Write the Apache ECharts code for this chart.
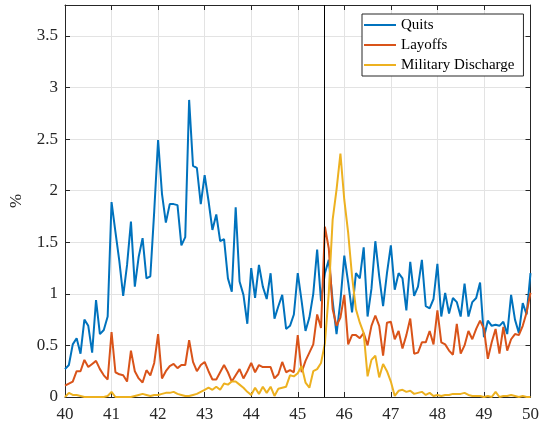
<!DOCTYPE html>
<html>
<head>
<meta charset="utf-8">
<script src="https://cdn.jsdelivr.net/npm/echarts@6/dist/echarts.min.js"></script>
<style>
html,body{margin:0;padding:0;background:#fff;}
#c{width:542px;height:426px;}
</style>
</head>
<body>
<div id="c"></div>
<script>
// Monthly series, Jan 1940 .. Jan 1950 (121 points)
const startYear = 40;
const monthsPerYear = 12;
const quits = [
  0.27,0.31,0.51,0.57,0.42,0.75,0.69,0.43,0.94,0.61,0.65,0.78,
  1.89,1.60,1.32,0.98,1.28,1.70,1.07,1.36,1.54,1.15,1.17,1.80,
  2.49,1.97,1.69,1.87,1.87,1.86,1.47,1.55,2.88,2.24,2.22,1.87,
  2.15,1.90,1.62,1.77,1.51,1.53,1.15,1.02,1.84,1.12,0.99,0.71,
  1.25,0.96,1.28,1.07,0.95,1.20,0.76,0.88,0.99,0.66,0.69,0.80,
  1.20,0.93,0.64,0.77,1.00,1.43,0.93,1.20,1.33,0.93,0.61,0.93,
  1.37,1.11,0.82,1.20,1.15,1.45,0.78,1.05,1.51,1.17,0.88,1.20,
  1.47,1.04,1.20,1.15,0.84,1.31,0.98,1.07,1.33,0.88,0.86,0.95,
  1.29,0.78,1.01,0.81,0.96,0.92,0.78,1.10,0.78,0.92,0.96,1.11,
  0.58,0.74,0.69,0.70,0.69,0.73,0.61,0.99,0.75,0.62,0.91,0.80,
  1.20
];
const layoffs = [
  0.11,0.13,0.15,0.25,0.25,0.36,0.29,0.32,0.35,0.27,0.21,0.17,
  0.63,0.24,0.22,0.21,0.15,0.45,0.25,0.18,0.14,0.26,0.21,0.33,
  0.61,0.18,0.25,0.30,0.32,0.28,0.31,0.31,0.55,0.34,0.25,0.31,
  0.34,0.25,0.17,0.17,0.24,0.31,0.24,0.15,0.21,0.27,0.18,0.25,
  0.33,0.24,0.31,0.29,0.29,0.29,0.18,0.22,0.34,0.24,0.26,0.24,
  0.60,0.24,0.35,0.43,0.51,0.80,0.67,1.65,1.44,0.85,0.69,0.77,
  0.99,0.51,0.60,0.60,0.57,0.62,0.50,0.69,0.79,0.69,0.40,0.72,
  0.73,0.56,0.64,0.47,0.60,0.76,0.42,0.43,0.53,0.53,0.64,0.51,
  0.84,0.53,0.51,0.45,0.41,0.71,0.42,0.50,0.64,0.56,0.66,0.74,
  0.66,0.37,0.53,0.66,0.42,0.68,0.45,0.56,0.61,0.60,0.69,0.82,
  1.01
];
const military = [
  0.00,0.04,0.02,0.02,0.01,0.00,0.00,0.00,0.00,0.00,0.00,0.01,
  0.05,0.00,0.00,0.00,0.00,0.00,0.01,0.02,0.03,0.02,0.01,0.02,
  0.02,0.03,0.04,0.04,0.05,0.03,0.02,0.01,0.01,0.02,0.03,0.05,
  0.07,0.09,0.07,0.10,0.07,0.13,0.12,0.15,0.15,0.12,0.09,0.05,
  0.02,0.09,0.03,0.10,0.04,0.10,0.01,0.08,0.09,0.10,0.21,0.20,
  0.23,0.30,0.14,0.09,0.25,0.27,0.33,0.52,1.01,1.72,2.01,2.36,
  1.91,1.59,1.17,0.85,0.72,0.62,0.20,0.36,0.40,0.19,0.32,0.25,
  0.15,0.01,0.06,0.07,0.05,0.06,0.03,0.04,0.05,0.02,0.04,0.01,
  0.02,0.01,0.02,0.02,0.03,0.03,0.03,0.04,0.02,0.01,0.01,0.01,
  0.00,0.01,0.00,0.05,0.00,0.01,0.01,0.02,0.01,0.00,0.01,0.00,
  0.00
];
const seriesNames = ['Quits','Layoffs','Military Discharge'];
const xTicks = [40,41,42,43,44,45,46,47,48,49,50];
const yTicks = [0,0.5,1,1.5,2,2.5,3,3.5];
const eventX = 45.58;

const pair = arr => arr.map((v,i) => [startYear + i/monthsPerYear, v]);
const axisCol = '#262626';
const font = 'Liberation Serif';

const chart = echarts.init(document.getElementById('c'), null, {renderer:'canvas'});
const baseX = {
  type:'value', min:xTicks[0], max:xTicks[xTicks.length-1], interval:1,
  axisLine:{show:true, onZero:false, lineStyle:{color:axisCol, width:1}},
  axisTick:{show:true, inside:true, length:5, lineStyle:{color:axisCol}},
};
const baseY = {
  type:'value', min:0, max:3.8, interval:0.5,
  axisLine:{show:true, onZero:false, lineStyle:{color:axisCol, width:1}},
  axisTick:{show:true, inside:true, length:5, lineStyle:{color:axisCol}},
};
chart.setOption({
  animation:false,
  backgroundColor:'#fff',
  grid:{left:57, right:8, top:5, bottom:29, containLabel:false},
  legend:{
    data:seriesNames, orient:'vertical', left:362, top:14,
    icon:'rect', itemWidth:32, itemHeight:2, itemGap:4,
    backgroundColor:'#fff', borderColor:axisCol, borderWidth:1,
    padding:[3,9,3,2],
    textStyle:{fontFamily:font, fontSize:15, lineHeight:16, color:'#000'}
  },
  xAxis:[
    Object.assign({}, baseX, {position:'bottom',
      axisLabel:{show:true, margin:9, fontFamily:font, fontSize:17, color:axisCol},
      splitLine:{show:true, lineStyle:{color:'#e3e3e3', width:1}}}),
    Object.assign({}, baseX, {position:'top', axisLabel:{show:false}, splitLine:{show:false}})
  ],
  yAxis:[
    Object.assign({}, baseY, {position:'left',
      name:'%', nameLocation:'middle', nameGap:40, nameRotate:90,
      nameTextStyle:{fontFamily:font, fontSize:17, color:axisCol},
      axisLabel:{show:true, margin:7, fontFamily:font, fontSize:17, color:axisCol, showMaxLabel:false},
      splitLine:{show:true, lineStyle:{color:'#e3e3e3', width:1}}}),
    Object.assign({}, baseY, {position:'right', axisLabel:{show:false}, splitLine:{show:false}})
  ],
  series:[
    {name:seriesNames[0], type:'line', data:pair(quits), symbol:'none',
      lineStyle:{color:'#0072BD', width:2}, itemStyle:{color:'#0072BD'},
      markLine:{symbol:'none', silent:true, label:{show:false}, animation:false,
        lineStyle:{color:'#000', width:1, type:'solid'}, data:[{xAxis:eventX}]}},
    {name:seriesNames[1], type:'line', data:pair(layoffs), symbol:'none',
      lineStyle:{color:'#D95319', width:2}, itemStyle:{color:'#D95319'}},
    {name:seriesNames[2], type:'line', data:pair(military), symbol:'none',
      lineStyle:{color:'#EDB120', width:2}, itemStyle:{color:'#EDB120'}}
  ]
});
</script>
</body>
</html>
